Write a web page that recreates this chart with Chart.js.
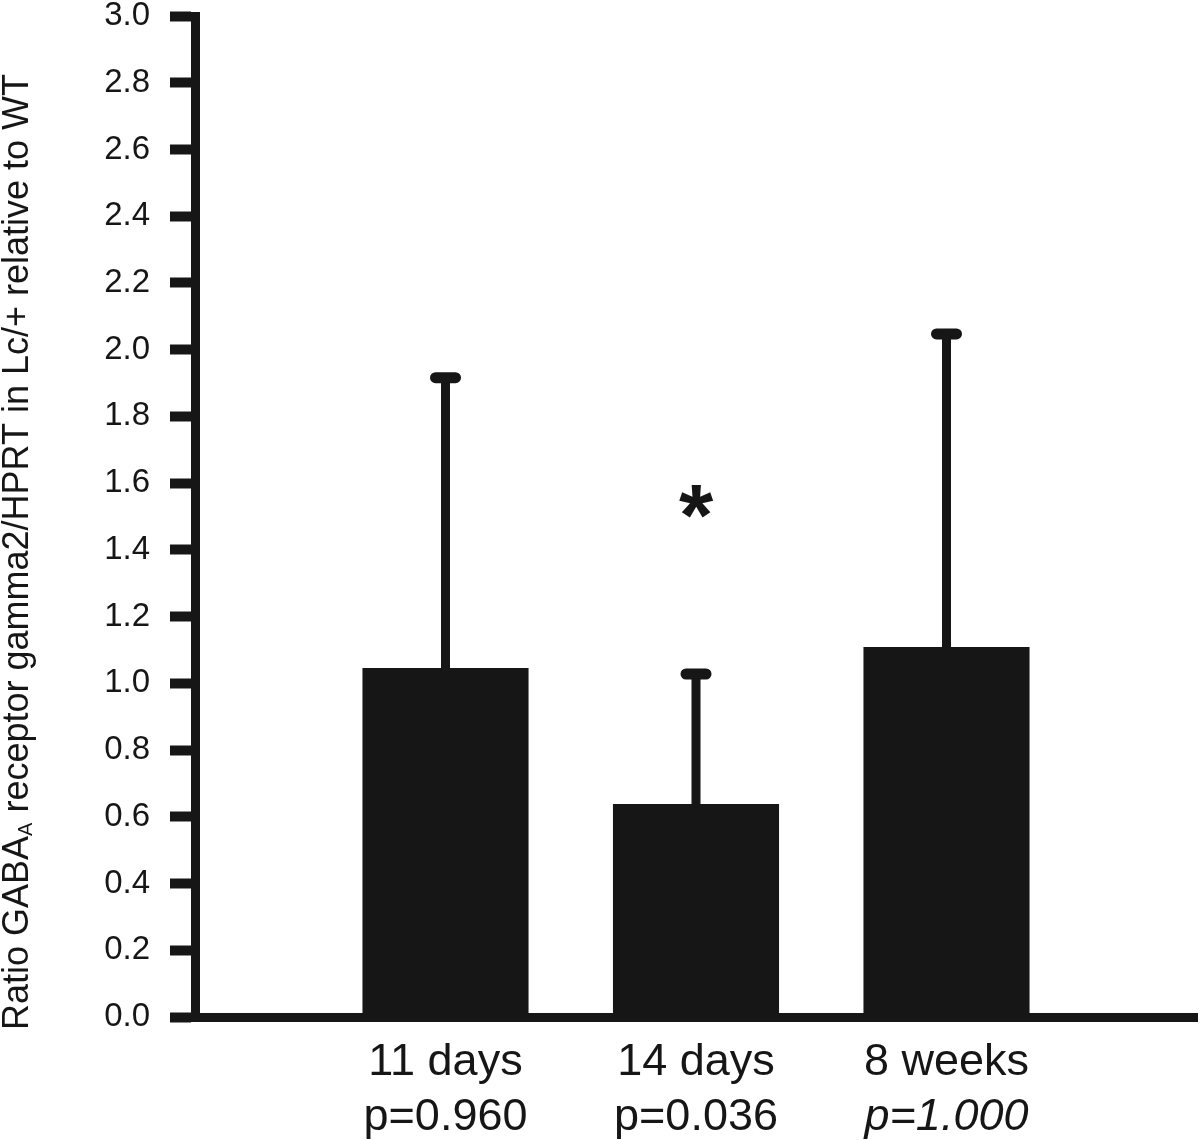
<!DOCTYPE html>
<html>
<head>
<meta charset="utf-8">
<script src="https://cdn.jsdelivr.net/npm/chart.js@4"></script>
<style>
  html, body { margin: 0; padding: 0; background: #fff; }
  #wrap { width: 1200px; height: 1140px; position: relative; }
</style>
</head>
<body>
<div id="wrap"><canvas id="chart"></canvas></div>
<script>
// data
const categories = ['11 days', '14 days', '8 weeks'];
const pValues = ['p=0.960', 'p=0.036', 'p=1.000'];
const means = [1.046, 0.638, 1.109];
const errorTops = [1.916, 1.028, 2.047];
const marks = ['', '*', ''];
const markValue = 1.55;
const yTicks = [0, 0.2, 0.4, 0.6, 0.8, 1.0, 1.2, 1.4, 1.6, 1.8, 2.0, 2.2, 2.4, 2.6, 2.8, 3.0];

const INK = '#161616';
const FONT = 'Arial, "Liberation Sans", sans-serif';

// empty slot on each side so the bars sit at 1, 2, 3 on a 0..4 axis
const labels = [''].concat(categories, ['']);
const values = [null].concat(means, [null]);

const extras = {
    id: 'extras',
    afterDatasetsDraw(chart) {
        const ctx = chart.ctx;
        const x = chart.scales.x, y = chart.scales.y;
        ctx.save();
        ctx.strokeStyle = INK;
        ctx.fillStyle = INK;

        // upper error bars
        errorTops.forEach((top, i) => {
            const px = x.getPixelForValue(i + 1);
            const yb = y.getPixelForValue(means[i]);
            const yt = y.getPixelForValue(top);
            ctx.lineCap = 'butt';
            ctx.lineWidth = 9;
            ctx.beginPath();
            ctx.moveTo(px, yb);
            ctx.lineTo(px, yt);
            ctx.stroke();
            ctx.lineCap = 'round';
            ctx.lineWidth = 11;
            ctx.beginPath();
            ctx.moveTo(px - 10, yt);
            ctx.lineTo(px + 10, yt);
            ctx.stroke();
        });

        // significance mark (glyph centred on markValue)
        ctx.textAlign = 'center';
        ctx.textBaseline = 'alphabetic';
        ctx.font = 'bold 88px ' + FONT;
        marks.forEach((m, i) => {
            if (!m) return;
            ctx.fillText(m, x.getPixelForValue(i + 1), y.getPixelForValue(markValue) + 45);
        });

        // category labels with p values
        categories.forEach((c, i) => {
            const px = x.getPixelForValue(i + 1);
            ctx.font = '45px ' + FONT;
            ctx.fillText(c, px, 1075);
            ctx.font = (i === 2 ? 'italic ' : '') + '45px ' + FONT;
            ctx.fillText(pValues[i], px, 1130);
        });

        // rotated y title with subscript
        ctx.translate(28, 1030);
        ctx.rotate(-Math.PI / 2);
        ctx.textAlign = 'left';
        ctx.font = '36px ' + FONT;
        const a = 'Ratio GABA';
        ctx.fillText(a, 0, 0);
        let off = ctx.measureText(a).width;
        ctx.font = '20px ' + FONT;
        ctx.fillText('A', off, 4);
        off += ctx.measureText('A').width;
        ctx.font = '36px ' + FONT;
        ctx.fillText(' receptor gamma2/HPRT in Lc/+ relative to WT', off, 0);
        ctx.restore();
    }
};

new Chart(document.getElementById('chart'), {
    type: 'bar',
    data: {
        labels: labels,
        datasets: [{
            data: values,
            backgroundColor: INK,
            borderWidth: 0,
            barPercentage: 0.663,
            categoryPercentage: 1
        }]
    },
    options: {
        responsive: true,
        maintainAspectRatio: false,
        animation: false,
        devicePixelRatio: 1,
        layout: { padding: { top: 0, right: 3, left: 0, bottom: 0 } },
        plugins: {
            legend: { display: false },
            tooltip: { enabled: false }
        },
        scales: {
            x: {
                offset: false,
                grid: { display: false },
                border: { display: true, color: INK, width: 9 },
                ticks: { display: false },
                afterFit(scale) { scale.height = 123; }
            },
            y: {
                min: 0,
                max: 3,
                afterBuildTicks(scale) {
                    scale.ticks = yTicks.map(v => ({ value: v }));
                },
                grid: {
                    drawOnChartArea: false,
                    drawTicks: true,
                    tickLength: 25,
                    tickWidth: 10,
                    tickColor: INK
                },
                border: { display: true, color: INK, width: 9 },
                ticks: {
                    padding: 20,
                    color: INK,
                    font: { size: 33, family: FONT },
                    callback: v => v.toFixed(1)
                },
                afterFit(scale) {
                    scale.width = 195;
                    scale.paddingTop = 16;
                    scale.paddingBottom = 0;
                }
            }
        }
    },
    plugins: [extras]
});
</script>
</body>
</html>
